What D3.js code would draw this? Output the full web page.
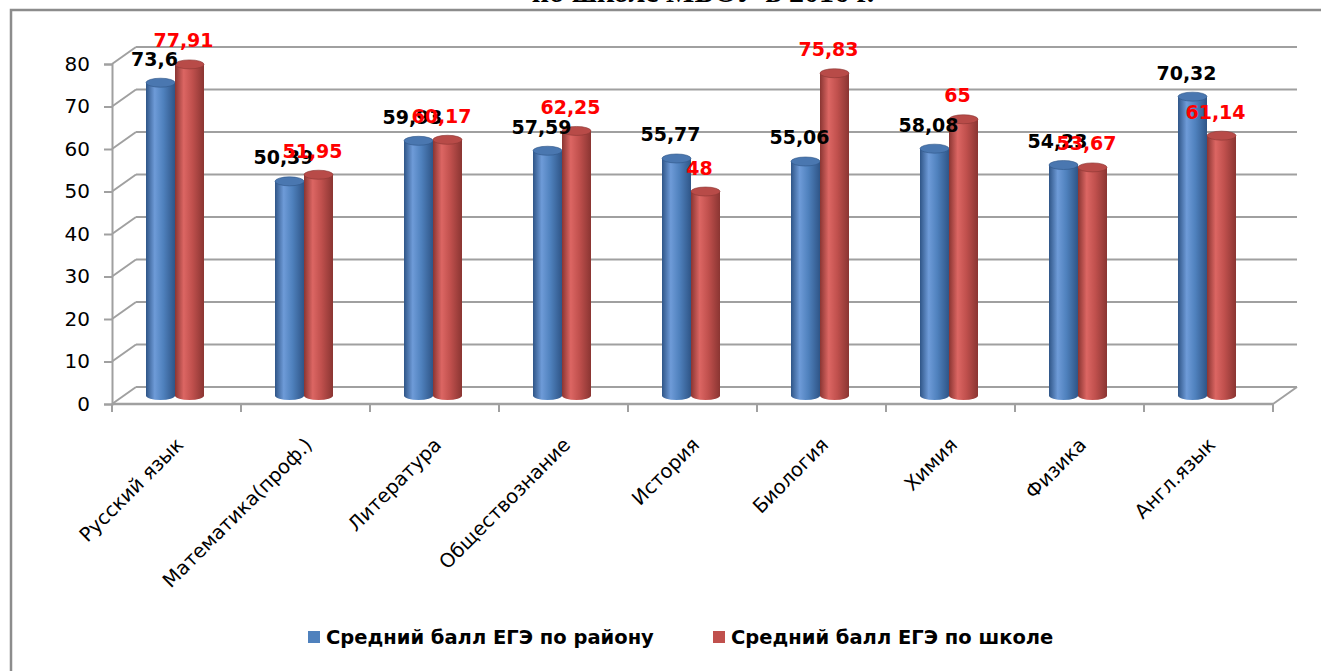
<!DOCTYPE html>
<html>
<head>
<meta charset="utf-8">
<script src="https://cdn.jsdelivr.net/npm/d3@7"></script>
<style>
  body { margin: 0; background: white; }
  svg { display: block; font-family: "DejaVu Sans", sans-serif; }
</style>
</head>
<body>
<svg id="chart" width="1321" height="671"></svg>
<script>
// Data
const subjects = ["Русский язык", "Математика(проф.)", "Литература", "Обществознание",
  "История", "Биология", "Химия", "Физика", "Англ.язык"];
const districtAvg = [73.6, 50.39, 59.93, 57.59, 55.77, 55.06, 58.08, 54.23, 70.32];
const schoolAvg = [77.91, 51.95, 60.17, 62.25, 48, 75.83, 65, 53.67, 61.14];
const seriesNames = ["Средний балл ЕГЭ по району", "Средний балл ЕГЭ по школе"];
const yTicks = [0, 10, 20, 30, 40, 50, 60, 70, 80];

const svg = d3.select("#chart");

// 3D depth offsets (back wall and middle of the bars)
const depth = { dx: 24, dy: -17 };
const mid = { dx: 12, dy: -8.5 };

const x = d3.scaleBand().domain(subjects).range([112, 1273]).padding(0);
const xSeries = d3.scaleBand().domain([0, 1]).range([34, 92]);
const y = d3.scaleLinear().domain([0, 80]).range([404, 64]);

const colors = [
  { edge: "#2f5587", light: "#6e9bd8", base: "#4f81bd", top: "#4a77b0" },
  { edge: "#8a3532", light: "#dc6663", base: "#c0504d", top: "#b84b48" }
];

// gradients for cylinders
const defs = svg.append("defs");
colors.forEach((c, i) => {
  const g = defs.append("linearGradient").attr("id", "cyl" + i)
    .attr("x1", "0").attr("x2", "1").attr("y1", "0").attr("y2", "0");
  g.append("stop").attr("offset", "0").attr("stop-color", c.edge);
  g.append("stop").attr("offset", "0.3").attr("stop-color", c.light);
  g.append("stop").attr("offset", "0.6").attr("stop-color", c.base);
  g.append("stop").attr("offset", "1").attr("stop-color", c.edge);
});

// Outer frame
svg.append("rect").attr("x", 11).attr("y", 10).attr("width", 1340).attr("height", 700)
  .attr("fill", "none").attr("stroke", "#8c8c8c").attr("stroke-width", 2.5);

// Title (cut off at the top)
svg.append("text").attr("x", 703).attr("y", 2).attr("text-anchor", "middle")
  .style("font-family", "'Liberation Serif', serif").style("font-weight", "bold")
  .style("font-size", "30px").text("по школе МБОУ в 2016 г.");

const gridColor = "#a0a0a0";
const x0 = x.range()[0], x1 = x.range()[1];

// Back wall gridlines
svg.append("g").selectAll("line").data(yTicks).join("line")
  .attr("x1", x0 + depth.dx).attr("x2", x1 + depth.dx)
  .attr("y1", d => y(d) + depth.dy).attr("y2", d => y(d) + depth.dy)
  .attr("stroke", gridColor).attr("stroke-width", 2);

// Side diagonals on the left
svg.append("g").selectAll("line").data(yTicks).join("line")
  .attr("x1", x0).attr("x2", x0 + depth.dx)
  .attr("y1", d => y(d)).attr("y2", d => y(d) + depth.dy)
  .attr("stroke", gridColor).attr("stroke-width", 2);

// Floor front edge and right diagonal
svg.append("line").attr("x1", x0).attr("x2", x1).attr("y1", y(0)).attr("y2", y(0))
  .attr("stroke", gridColor).attr("stroke-width", 2.5);
svg.append("line").attr("x1", x1).attr("x2", x1 + depth.dx).attr("y1", y(0)).attr("y2", y(0) + depth.dy)
  .attr("stroke", gridColor).attr("stroke-width", 2);

// Category tick marks at band boundaries
svg.append("g").selectAll("line").data(subjects.map(s => x(s)).concat([x1])).join("line")
  .attr("x1", d => d).attr("x2", d => d).attr("y1", y(0)).attr("y2", y(0) + 8)
  .attr("stroke", gridColor).attr("stroke-width", 2);

// Y axis
const yAxis = svg.append("g").attr("transform", `translate(${x0},0)`)
  .call(d3.axisLeft(y).tickValues(yTicks).tickSize(8).tickPadding(14));
yAxis.select(".domain").attr("stroke", gridColor).attr("stroke-width", 2);
yAxis.selectAll(".tick line").attr("stroke", gridColor).attr("stroke-width", 2);
yAxis.selectAll(".tick text").style("font-size", "20px").style("font-family", "'DejaVu Sans', sans-serif")
  .attr("fill", "#000");

// Cylinders
const ry = 4.5;
function cylinder(cx, rx, yTop, yBot) {
  return `M${cx - rx},${yTop} L${cx - rx},${yBot} A${rx},${ry} 0 0 0 ${cx + rx},${yBot} L${cx + rx},${yTop} Z`;
}

const series = [districtAvg, schoolAvg];
series.forEach((vals, si) => {
  const g = svg.append("g");
  const bw = xSeries.bandwidth();
  const cx = (d, i) => x(subjects[i]) + xSeries(si) + bw / 2;
  g.selectAll("path.body").data(vals).join("path").attr("class", "body")
    .attr("d", (d, i) => cylinder(cx(d, i), bw / 2, y(d) + mid.dy, y(0) + mid.dy))
    .attr("fill", `url(#cyl${si})`);
  g.selectAll("ellipse").data(vals).join("ellipse")
    .attr("cx", (d, i) => cx(d, i)).attr("cy", d => y(d) + mid.dy)
    .attr("rx", bw / 2).attr("ry", ry)
    .attr("fill", colors[si].top).attr("stroke", colors[si].edge).attr("stroke-width", 0.6);
});

// Data labels
const fmt = v => String(v).replace(".", ",");
series.forEach((vals, si) => {
  const bw = xSeries.bandwidth();
  svg.append("g").selectAll("text").data(vals).join("text")
    .attr("x", (d, i) => x(subjects[i]) + xSeries(si) + bw / 2 - 6)
    .attr("y", d => y(d) + mid.dy - 24 + 7)
    .attr("text-anchor", "middle")
    .style("font-size", "19px").style("font-weight", "bold")
    .attr("fill", si === 0 ? "#000" : "#ff0000")
    .text(fmt);
});

// Category labels
svg.append("g").selectAll("text").data(subjects).join("text")
  .attr("transform", d => `translate(${x(d) + x.bandwidth() / 2 + 8},446) rotate(-45)`)
  .attr("text-anchor", "end")
  .style("font-size", "19.5px")
  .text(d => d);

// Legend
const legendX = [308, 713];
seriesNames.forEach((name, i) => {
  svg.append("rect").attr("x", legendX[i]).attr("y", 631).attr("width", 12).attr("height", 12)
    .attr("fill", colors[i].base);
  svg.append("text").attr("x", legendX[i] + 18).attr("y", 644)
    .style("font-size", "19.5px").style("font-weight", "bold").text(name);
});
</script>
</body>
</html>
